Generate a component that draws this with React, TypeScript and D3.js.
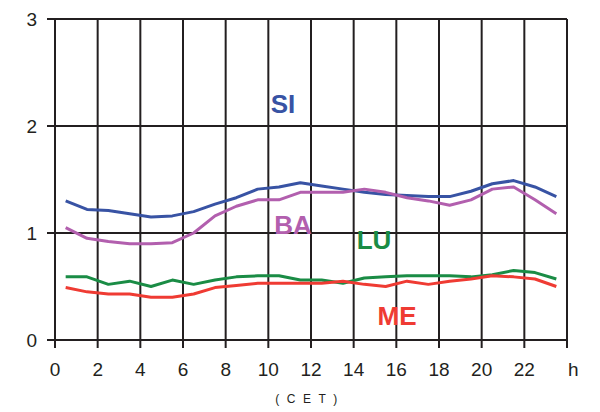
import { FC } from 'react';
import * as d3 from 'd3';

const hours = [0.5, 1.5, 2.5, 3.5, 4.5, 5.5, 6.5, 7.5, 8.5, 9.5, 10.5, 11.5, 12.5, 13.5, 14.5, 15.5, 16.5, 17.5, 18.5, 19.5, 20.5, 21.5, 22.5, 23.5];
const si = [1.30, 1.22, 1.21, 1.18, 1.15, 1.16, 1.20, 1.27, 1.33, 1.41, 1.43, 1.47, 1.44, 1.41, 1.38, 1.36, 1.35, 1.34, 1.34, 1.39, 1.46, 1.49, 1.43, 1.34];
const ba = [1.05, 0.95, 0.92, 0.90, 0.90, 0.91, 1.00, 1.16, 1.25, 1.31, 1.31, 1.38, 1.38, 1.38, 1.41, 1.38, 1.33, 1.30, 1.26, 1.31, 1.41, 1.43, 1.31, 1.18];
const lu = [0.59, 0.59, 0.52, 0.55, 0.50, 0.56, 0.52, 0.56, 0.59, 0.60, 0.60, 0.56, 0.56, 0.53, 0.58, 0.59, 0.60, 0.60, 0.60, 0.59, 0.61, 0.65, 0.63, 0.57];
const me = [0.49, 0.45, 0.43, 0.43, 0.40, 0.40, 0.43, 0.49, 0.51, 0.53, 0.53, 0.53, 0.53, 0.55, 0.52, 0.50, 0.55, 0.52, 0.55, 0.57, 0.60, 0.59, 0.57, 0.50];

const xTicks = [0, 2, 4, 6, 8, 10, 12, 14, 16, 18, 20, 22];
const yTicks = [0, 1, 2, 3];

const series = [
  { name: 'SI', values: si, color: '#3853a4', lx: 283, ly: 104 },
  { name: 'BA', values: ba, color: '#b25fae', lx: 293, ly: 225 },
  { name: 'LU', values: lu, color: '#1a8c45', lx: 374, ly: 240 },
  { name: 'ME', values: me, color: '#ef3b33', lx: 397, ly: 316 },
];

const App: FC = () => {
  const width = 600;
  const height = 412;
  const x = d3.scaleLinear().domain([0, 24]).range([55, 567]);
  const y = d3.scaleLinear().domain([0, 3]).range([340, 19]);
  const gridColor = '#231f20';
  const font = 'Liberation Sans, Arial, Helvetica, sans-serif';

  const line = d3.line<number>()
    .x((_, i) => x(hours[i]))
    .y((d) => y(d));

  const gridX = [...xTicks, 24];

  return (
    <svg width={width} height={height} style={{ position: 'absolute', left: 0, top: 0 }} fontFamily={font}>
      <rect width={width} height={height} fill="#fff" />
      {/* vertical grid */}
      {gridX.map((t) => (
        <line key={'v' + t} x1={x(t)} x2={x(t)} y1={y(3)} y2={y(0) + 8} stroke={gridColor} strokeWidth={2} />
      ))}
      {/* horizontal grid */}
      {yTicks.map((t) => (
        <line key={'h' + t} x1={x(0) - 8} x2={x(24)} y1={y(t)} y2={y(t)} stroke={gridColor} strokeWidth={2} />
      ))}
      {/* y labels */}
      {yTicks.map((t) => (
        <text key={'yl' + t} x={37} y={y(t)} dy="0.36em" textAnchor="end" fontSize={19} fill={gridColor}>{t}</text>
      ))}
      {/* x labels */}
      {xTicks.map((t) => (
        <text key={'xl' + t} x={x(t)} y={376} textAnchor="middle" fontSize={19} fill={gridColor}>{t}</text>
      ))}
      <text x={568} y={376} fontSize={19} fill={gridColor}>h</text>
      <text x={310} y={403} textAnchor="middle" fontSize={12} letterSpacing={7.5} fill={gridColor}>(CET)</text>
      {/* series */}
      {series.map((s) => (
        <path key={s.name} d={line(s.values) ?? ''} fill="none" stroke={s.color} strokeWidth={3} strokeLinejoin="round" />
      ))}
      {series.map((s) => (
        <text key={'l' + s.name} x={s.lx} y={s.ly} dy="0.36em" textAnchor="middle" fontSize={26} fontWeight="bold" fill={s.color}>{s.name}</text>
      ))}
    </svg>
  );
};

export default App;
